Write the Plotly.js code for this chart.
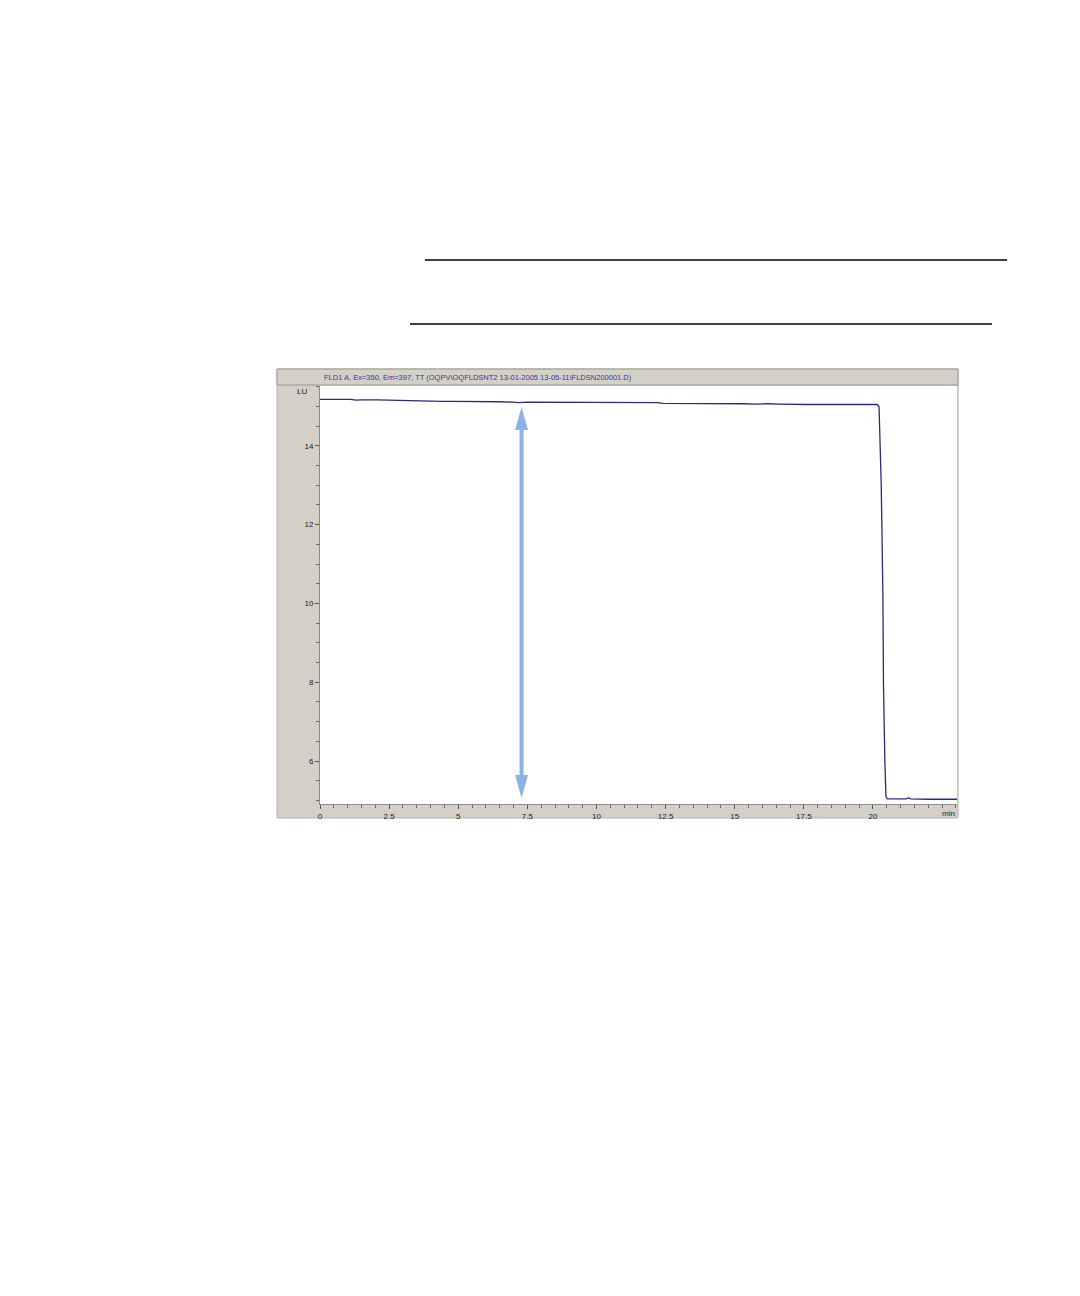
<!DOCTYPE html>
<html>
<head>
<meta charset="utf-8">
<script src="https://cdn.plot.ly/plotly-3.0.1.min.js"></script>
<style>
    html, body { margin: 0; padding: 0; background: #ffffff; }
    #chart { width: 1080px; height: 1296px; }
</style>
</head>
<body>
<div id="chart"></div>
<script>
// FLD signal trace (time in min, signal in LU)
const timeMin = [
    0, 0.45, 0.55, 1.1, 1.3, 1.5, 2.1, 2.9, 3.2, 3.6,
    4.0, 4.4, 4.8, 5.4, 6.0, 6.5, 7.0, 7.2, 7.5, 8.2,
    8.7, 9.3, 10.0, 10.6, 11.2, 11.6, 12.2, 12.4, 13.0, 13.7,
    14.2, 14.8, 15.3, 15.8, 16.2, 16.6, 17.0, 17.6, 18.3, 19.0,
    19.5, 19.9, 20.15, 20.22, 20.25, 20.30, 20.36, 20.38, 20.43, 20.47,
    20.52, 21.2, 21.3, 21.35, 22.0, 23.04,
];
const signalLU = [
    15.18, 15.18, 15.17, 15.18, 15.16, 15.17, 15.17, 15.15, 15.15, 15.14,
    15.14, 15.13, 15.13, 15.13, 15.12, 15.12, 15.11, 15.10, 15.11, 15.11,
    15.11, 15.10, 15.10, 15.10, 15.10, 15.11, 15.10, 15.08, 15.08, 15.08,
    15.07, 15.07, 15.07, 15.06, 15.07, 15.06, 15.05, 15.05, 15.05, 15.05,
    15.05, 15.06, 15.05, 15.00, 14.20, 13.00, 10.20, 8.00, 6.00, 5.10,
    5.04, 5.04, 5.07, 5.04, 5.03, 5.03,
];

const xTickVals = [0, 2.5, 5, 7.5, 10, 12.5, 15, 17.5, 20];
const xTickText = ["0", "2.5", "5", "7.5", "10", "12.5", "15", "17.5", "20"];
const yTickVals = [6, 8, 10, 12, 14];
const yTickText = ["6", "8", "10", "12", "14"];

const xRange = [0, 23.04];
const yRange = [4.91, 15.52];

// double-headed arrow marking the step height
const arrowTime = 7.29;
const arrowTop = 14.99;
const arrowBottom = 5.06;

const signalTitle = "FLD1 A, Ex=350, Em=397, TT (OQPV\\OQFLDSNT2 13-01-2005 13-05-11\\FLDSN200001.D)";

// plot box in page pixels
const box = { l: 320, r: 957, t: 386, b: 804 };
const px = (x) => (x - box.l) / (box.r - box.l);
const py = (y) => (box.b - y) / (box.b - box.t);

const xPerPx = (xRange[1] - xRange[0]) / (box.r - box.l);
const yPerPx = (yRange[1] - yRange[0]) / (box.b - box.t);
const headHalf = 6.5 * xPerPx;
const headLen = 23 * yPerPx;

const panelGrey = "#d4d0c8";
const arrowBlue = "#8db3e2";
const font = "\"Liberation Sans\", Arial, sans-serif";

function paperRect(x0, y0, x1, y1, fill, lineColor) {
    return {
        type: "rect", xref: "paper", yref: "paper", layer: "below",
        x0: px(x0), x1: px(x1), y0: py(y0), y1: py(y1),
        fillcolor: fill,
        line: { color: lineColor || fill, width: lineColor ? 1 : 0 },
    };
}

function paperLine(x0, x1, y, color) {
    return {
        type: "line", xref: "paper", yref: "paper",
        x0: px(x0), x1: px(x1), y0: py(y), y1: py(y),
        line: { color: color, width: 1.3 },
    };
}

const shapes = [
    paperRect(277, 369, 958, 818, panelGrey, "#b8b4ac"),
    paperRect(277, 369, 958, 385, panelGrey, "#9c9890"),
    paperRect(box.l, box.t, box.r, box.b, "#ffffff"),
    paperLine(425, 1007, 260, "#000000"),
    paperLine(410, 992, 324, "#000000"),
    {
        type: "path", xref: "x", yref: "y", layer: "above",
        path: `M ${arrowTime} ${arrowTop} L ${arrowTime - headHalf} ${arrowTop - headLen} L ${arrowTime + headHalf} ${arrowTop - headLen} Z`,
        fillcolor: arrowBlue, line: { width: 0 },
    },
    {
        type: "path", xref: "x", yref: "y", layer: "above",
        path: `M ${arrowTime} ${arrowBottom} L ${arrowTime - headHalf} ${arrowBottom + headLen} L ${arrowTime + headHalf} ${arrowBottom + headLen} Z`,
        fillcolor: arrowBlue, line: { width: 0 },
    },
];

const traces = [
    {
        type: "scatter",
        mode: "lines",
        x: timeMin,
        y: signalLU,
        line: { color: "#2b2b7a", width: 1.3 },
        hoverinfo: "skip",
    },
    {
        type: "scatter",
        mode: "lines",
        x: [arrowTime, arrowTime],
        y: [arrowTop - headLen * 0.9, arrowBottom + headLen * 0.9],
        line: { color: arrowBlue, width: 4 },
        hoverinfo: "skip",
    },
];

const axisCommon = {
    showgrid: false,
    zeroline: false,
    showline: true,
    linecolor: "#8a8a8a",
    linewidth: 1,
    ticks: "outside",
    ticklen: 4,
    tickwidth: 1,
    tickcolor: "#555555",
    tickfont: { family: font, size: 8, color: "#222222" },
    fixedrange: true,
};

Plotly.newPlot(
    "chart",
    traces,
    {
        width: 1080,
        height: 1296,
        margin: { l: box.l, r: 1080 - box.r, t: box.t, b: 1296 - box.b },
        paper_bgcolor: "#ffffff",
        plot_bgcolor: "#ffffff",
        showlegend: false,
        xaxis: {
            ...axisCommon,
            range: xRange,
            tickmode: "array",
            tickvals: xTickVals,
            ticktext: xTickText,
            minor: { tickmode: "linear", tick0: 0, dtick: 0.5, ticks: "outside", ticklen: 3, tickcolor: "#666666" },
        },
        yaxis: {
            ...axisCommon,
            range: yRange,
            tickmode: "array",
            tickvals: yTickVals,
            ticktext: yTickText,
            minor: { tickmode: "linear", tick0: 0, dtick: 0.5, ticks: "outside", ticklen: 3, tickcolor: "#666666" },
        },
        shapes: shapes,
        annotations: [
            {
                xref: "paper", yref: "paper", x: px(322), y: py(377),
                xanchor: "left", yanchor: "middle", showarrow: false,
                text: signalTitle,
                font: { family: font, size: 7.5, color: "#3434a0" },
            },
            {
                xref: "paper", yref: "paper", x: px(302), y: py(391),
                xanchor: "center", yanchor: "middle", showarrow: false,
                text: "LU",
                font: { family: font, size: 8, color: "#222222" },
            },
            {
                xref: "paper", yref: "paper", x: px(957), y: py(813),
                xanchor: "right", yanchor: "middle", showarrow: false,
                text: "min",
                font: { family: font, size: 8, color: "#222222" },
            },
        ],
    },
    { displayModeBar: false, staticPlot: true },
);
</script>
</body>
</html>
